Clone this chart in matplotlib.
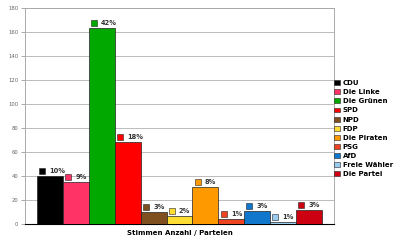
import matplotlib
matplotlib.use("Agg")
import matplotlib.pyplot as plt
import matplotlib.transforms as mtransforms
from matplotlib.patches import Patch

parties = ["CDU", "Die Linke", "Die Grünen", "SPD", "NPD", "FDP",
           "Die Piraten", "PSG", "AfD", "Freie Wähler", "Die Partei"]
votes = [40, 35, 163, 68, 10, 7, 31, 4, 11, 2, 12]
percent = ["10%", "9%", "42%", "18%", "3%", "2%", "8%", "1%", "3%", "1%", "3%"]
colors = ["#000000", "#ff3366", "#00a800", "#ff0000", "#7f4f1f", "#ffdd33",
          "#ff9900", "#ee4422", "#1177cc", "#99ccee", "#cc0011"]
yticks = list(range(0, 181, 20))

fig = plt.figure(figsize=(4.0, 2.46), dpi=100)
ax = fig.add_axes([25 / 400, 22 / 246, 309 / 400, 216 / 246])

x = list(range(len(parties)))
ax.bar(x, votes, width=1.0, color=colors, edgecolor="#222222", lw=0.5, zorder=3)

ax.set_xlim(-0.96, len(parties) - 0.04)
ax.set_ylim(0, 180)
ax.set_yticks(yticks)
ax.set_xticks([])
ax.yaxis.grid(True, color="#bbbbbb", lw=0.7, zorder=0)
ax.tick_params(axis="y", labelsize=3.8, colors="#888888", length=3, width=0.5, pad=2)
for lbl in ax.get_yticklabels():
    lbl.set_color("#666666")

for s in ["left", "right", "top"]:
    ax.spines[s].set_color("#aaaaaa")
    ax.spines[s].set_linewidth(0.7)
ax.spines["bottom"].set_color("#000000")
ax.spines["bottom"].set_linewidth(0.8)

# value labels: small coloured square + percentage, just above each bar
off = mtransforms.offset_copy(ax.transData, fig=fig, y=5, units="dots")
for i, (v, p, c) in enumerate(zip(votes, percent, colors)):
    ax.plot(i - 0.3, v, marker="s", ms=4.3, color=c, mec="#222222", mew=0.4,
            transform=off, clip_on=False, zorder=4)
    ax.text(i - 0.02, v, p, transform=off, fontsize=4.8, fontweight="bold",
            color="#333333", ha="left", va="center", zorder=4)

ax.set_xlabel("Stimmen Anzahl / Parteien", fontsize=5, fontweight="bold",
              labelpad=4)

handles = [Patch(facecolor=c, edgecolor="#222222", lw=0.4) for c in colors]
fig.legend(handles, parties, loc="upper left",
           bbox_to_anchor=(334 / 400, (246 - 80) / 246),
           frameon=False, prop={"size": 5, "weight": "bold"},
           handlelength=0.9, handleheight=0.7, handletextpad=0.35,
           labelspacing=0.45, borderaxespad=0, borderpad=0)

fig.savefig("out.png", dpi=100)
